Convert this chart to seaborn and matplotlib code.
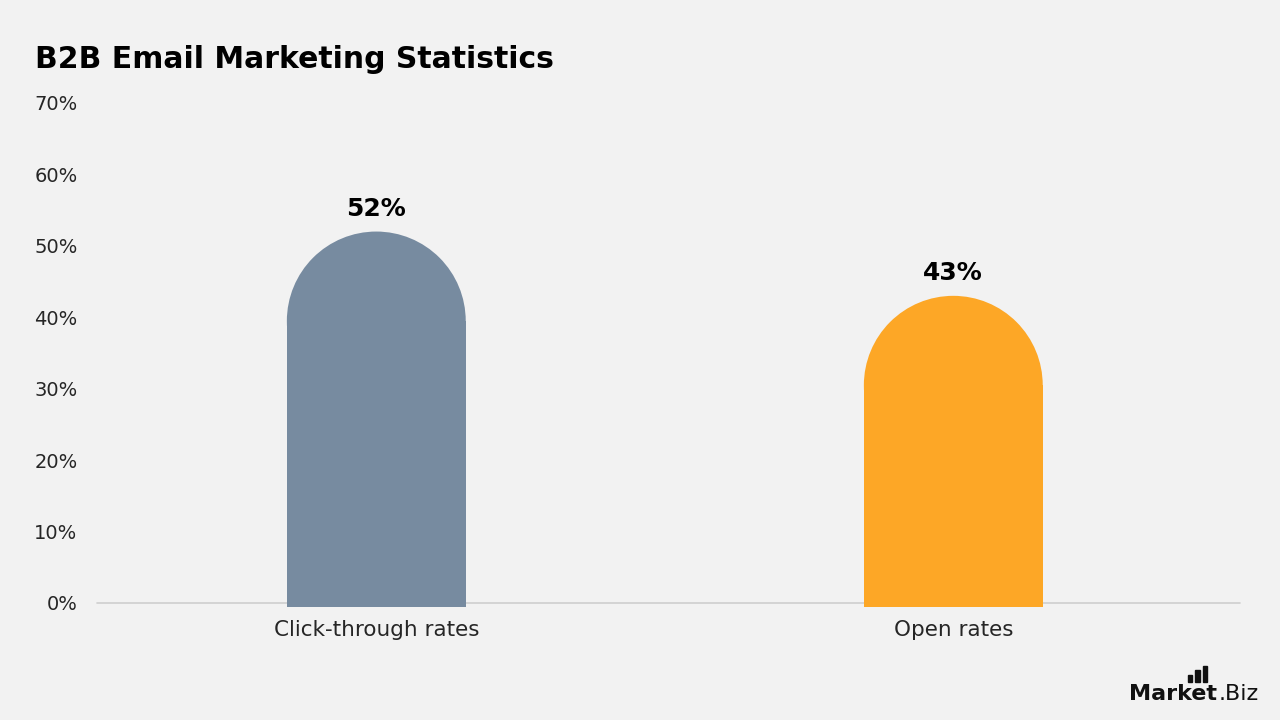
import matplotlib as mpl
import matplotlib.pyplot as plt
import seaborn as sns
import pandas as pd
from matplotlib.patches import Ellipse, Rectangle

# data
categories = ['Click-through rates', 'Open rates']
values = [52, 43]
bar_colors = ['#778BA0', '#FDA726']
y_ticks = [0, 10, 20, 30, 40, 50, 60, 70]
y_tick_labels = [f'{t}%' for t in y_ticks]

sns.set_style('white')
mpl.rcParams['font.family'] = ['DejaVu Sans']

bg = '#F2F2F2'
fig = plt.figure(figsize=(12.8, 7.2), dpi=100, facecolor=bg)
ax = fig.add_axes([0.0758, 0.1625, 0.893, 0.6945])
ax.set_facecolor(bg)

df = pd.DataFrame({'category': categories, 'value': values})
sns.barplot(data=df, x='category', y='value', hue='category', palette=bar_colors,
            width=0.31, legend=False, saturation=1, ax=ax)

ax.set_xlim(-0.484, 1.497)
ax.set_ylim(0, 70)

# rounded tops: shorten the bar, put a half-ellipse on top
bar_w_px = 0.31 * (0.893 * 1280) / (1.497 + 0.484)
r_y = bar_w_px / 2 / (0.6945 * 720) * 70
for p, v, c in zip(ax.patches, values, bar_colors):
    x0, w = p.get_x(), p.get_width()
    p.set_y(-0.6)
    p.set_height(v - r_y + 0.6)
    p.set_clip_on(False)
    p.set_linewidth(0)
    top = Ellipse((x0 + w / 2, v - r_y), w, 2 * r_y, facecolor=c, edgecolor='none', clip_on=False)
    ax.add_patch(top)
    ax.text(x0 + w / 2, v + 1.5, f'{v}%', ha='center', va='bottom',
            fontsize=18, fontweight='bold', color='black')

ax.axhline(0, color='#CFCFCF', lw=1.2, zorder=0.5, clip_on=False)
ax.set_yticks(y_ticks)
ax.set_yticklabels(y_tick_labels, fontsize=14, color='#262626')
ax.tick_params(axis='x', labelsize=15.5, colors='#262626', length=0, pad=12)
ax.tick_params(axis='y', length=0, pad=14)
ax.set_xlabel('')
ax.set_ylabel('')
sns.despine(left=True, bottom=True)

fig.text(0.027, 0.918, 'B2B Email Marketing Statistics', fontsize=21.5,
         fontweight='bold', color='black', ha='left', va='center')

# logo
t1 = fig.text(0.882, 0.028, 'Market', fontsize=16, fontweight='bold', ha='left', va='baseline', color='#111111')
fig.canvas.draw()
bb = t1.get_window_extent()
fig.text(bb.x1 / 1280 + 0.001, 0.028, '.Biz', fontsize=16, ha='left', va='baseline', color='#111111')
for i, h in enumerate([0.010, 0.016, 0.022]):
    fig.patches.append(Rectangle((0.928 + i * 0.0058, 0.053), 0.0035, h,
                                 transform=fig.transFigure, color='#111111'))

fig.savefig('out.png', dpi=100, facecolor=bg)
